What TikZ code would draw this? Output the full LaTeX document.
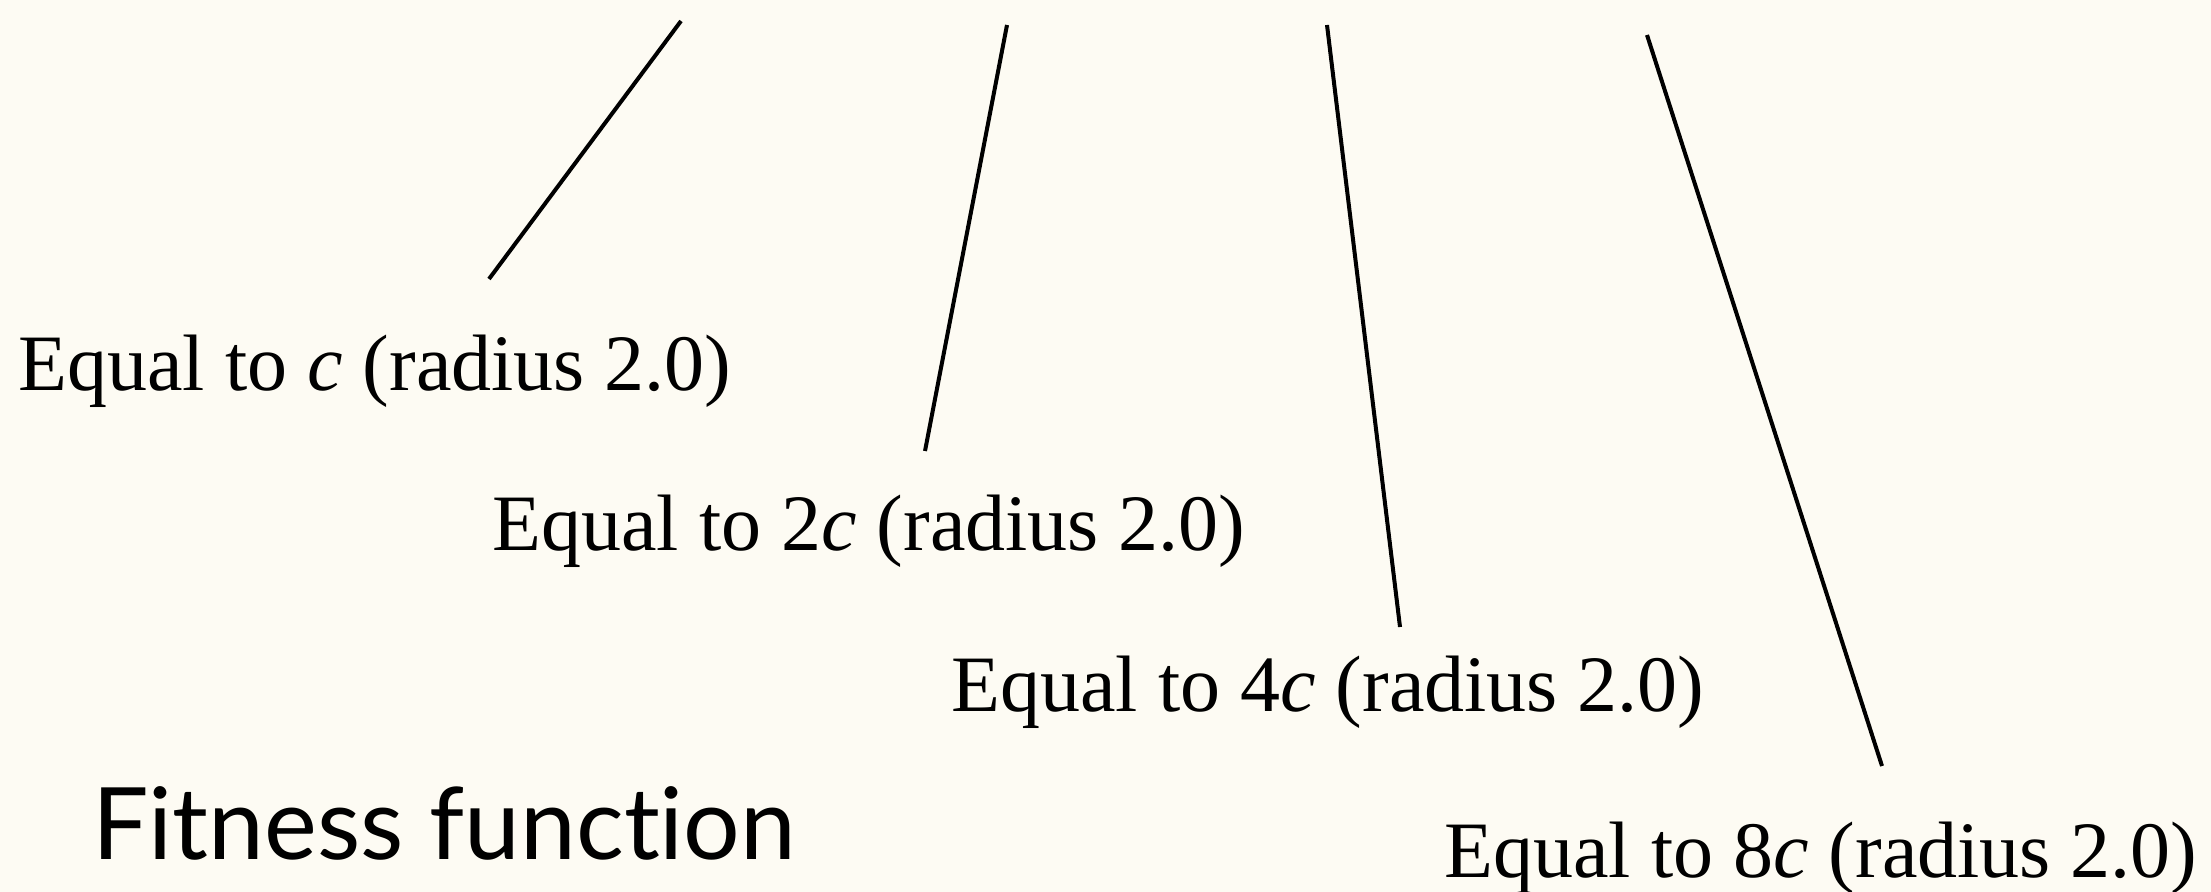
\documentclass[tikz,border=0pt]{standalone}
\usepackage{fontspec}
\setmainfont{Liberation Serif}
\newfontfamily\headfont[Ligatures=NoCommon]{Lato}
\usetikzlibrary{backgrounds}
\definecolor{paper}{HTML}{FDFBF3}

\begin{document}
\begin{tikzpicture}[x=0.5pt,y=-0.5pt,
  eqlabel/.style={anchor=base west,inner sep=0pt,font=\fontsize{40}{48}\selectfont},
  ray/.style={line width=2pt},
]
\fill[paper] (0,0) rectangle (2211,892);
\useasboundingbox (0,0) rectangle (2211,892);

% labels for the four circles
\foreach \id/\x/\y/\k in {1/18/391/,2/492/551/2,3/951/711/4,4/1444/877/8}
  \node[eqlabel] (eq\id) at (\x,\y) {Equal to \k\textit{c} (radius 2.0)};

% lines
\foreach \id/\xa/\ya/\xb/\yb in {1/681/21/489/279,2/1007/25/925/451,3/1327/25/1400/627,4/1647/35/1882/766}{
  \coordinate (top\id) at (\xa,\ya);
  \coordinate (foot\id) at (\xb,\yb);
  \draw[ray] (top\id) -- (foot\id);
}

\node[anchor=base west,inner sep=0pt,font=\headfont\fontsize{50}{60}\selectfont] (title) at (92,859) {Fitness function};
\end{tikzpicture}
\end{document}
